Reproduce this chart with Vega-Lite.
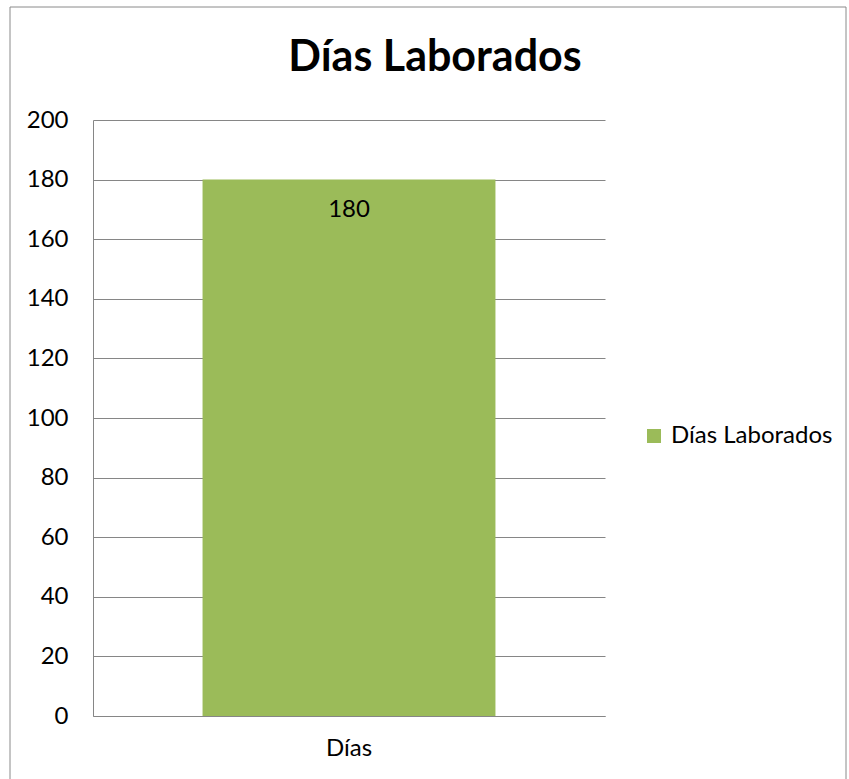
{
  "$schema": "https://vega.github.io/schema/vega-lite/v6.json",
  "width": 512,
  "height": 596,
  "autosize": {"type": "none"},
  "padding": {"left": 93, "top": 120, "right": 244, "bottom": 63},
  "background": "white",
  "title": {"text": "Días Laborados", "font": "Lato", "fontSize": 43, "fontWeight": "bold", "color": "#000000", "anchor": "middle", "dx": 86, "offset": 0, "baseline": "alphabetic", "dy": 107, "limit": 700},
  "data": {"values": [{"categoria": "Días", "serie": "Días Laborados", "dias": 180}]},
  "encoding": {
    "x": {
      "field": "categoria", "type": "nominal",
      "scale": {"paddingInner": 0, "paddingOuter": 0.374},
      "axis": {"title": null, "ticks": false, "tickSize": 0, "labelPadding": 20, "labelAngle": 0, "labelFont": "Lato", "labelFontSize": 24, "labelColor": "#000000", "domainColor": "#868686", "grid": false}
    },
    "y": {
      "field": "dias", "type": "quantitative",
      "scale": {"domain": [0, 200], "nice": false},
      "axis": {"title": null, "values": [0, 20, 40, 60, 80, 100, 120, 140, 160, 180, 200], "ticks": false, "tickSize": 0, "labelPadding": 25, "labelFont": "Lato", "labelFontSize": 24, "labelColor": "#000000", "domainColor": "#868686", "grid": true, "gridColor": "#868686"}
    }
  },
  "layer": [
    {
      "mark": {"type": "bar", "strokeWidth": 0},
      "encoding": {
        "fill": {"field": "serie", "type": "nominal", "scale": {"range": ["#9BBB59"]},
          "legend": {"orient": "none", "legendX": 549, "legendY": 304, "title": null, "symbolType": "square", "symbolSize": 196, "symbolStrokeWidth": 0, "labelFont": "Lato", "labelFontSize": 24, "labelColor": "#000000", "labelOffset": 5, "labelLimit": 300}},
        "stroke": {"field": "dias", "type": "quantitative", "scale": {"domain": [0, 200], "range": ["rgba(255,255,255,0)", "rgba(255,255,255,0)"]},
          "legend": {"orient": "none", "legendX": -83, "legendY": -113, "direction": "vertical", "title": null, "gradientLength": 800, "gradientThickness": 836, "gradientStrokeColor": "#8a8a8a", "gradientStrokeWidth": 1, "labelExpr": "''", "labelOpacity": 0, "labelFontSize": 1}}
      }
    },
    {
      "mark": {"type": "text", "font": "Lato", "fontSize": 24, "baseline": "middle", "dy": 30, "color": "#000000"},
      "encoding": {"text": {"field": "dias", "type": "quantitative"}}
    }
  ],
  "config": {"view": {"stroke": null}, "axis": {"domainWidth": 1, "gridWidth": 1}}
}
